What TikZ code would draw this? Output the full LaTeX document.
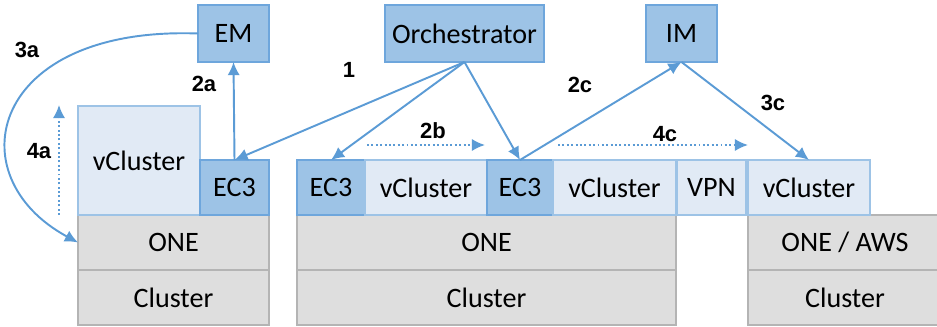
\documentclass[tikz,border=0pt]{standalone}
\usepackage{fontspec}
\setmainfont{Carlito}
\newfontfamily\nummerfont{Liberation Sans}
\usetikzlibrary{arrows.meta}

\definecolor{hellblau}{HTML}{E1EAF5}
\definecolor{randblau}{HTML}{9DC3E6}
\definecolor{mittelblau}{HTML}{9DC3E6}
\definecolor{dunkelblau}{HTML}{6EA6DC}
\definecolor{hellgrau}{HTML}{DEDEDE}
\definecolor{randgrau}{HTML}{B4B4B4}
\definecolor{pfeilblau}{HTML}{5B9BD5}

\def\d{0.02}
% Kasten: Stil, Name, x1, y1, x2, y2, Text
\def\kasten#1#2#3#4#5#6#7{\node[#1,minimum width={(#5-#3)*\d cm},minimum height={(#6-#4)*\d cm}] (#2) at ({(#3+#5)/2*\d},{(#4+#6)/2*\d}) {#7};}
\def\nummer#1#2#3{\node[nummer] at ({#1*\d},{#2*\d}) {#3};}

\tikzset{
	basis/.style={rectangle,inner sep=0pt,outer sep=0pt,line width=1.1pt,font=\fontsize{16}{19}\selectfont},
	vc/.style={basis,fill=hellblau,draw=randblau},
	ec/.style={basis,fill=mittelblau,draw=dunkelblau},
	grau/.style={basis,fill=hellgrau,draw=randgrau},
	nummer/.style={font=\nummerfont\bfseries\fontsize{12.5}{15}\selectfont},
	pfeil/.style={->,line width=1.1pt,draw=pfeilblau},
	punkte/.style={pfeil,dash pattern=on 1.1pt off 1.4pt}
}

\begin{document}
\begin{tikzpicture}[>={Latex[length=7.5pt,width=7pt]}]

\useasboundingbox (0,0) rectangle ({937*\d},{326*\d});

% oben
\kasten{ec}{em}{198}{264}{269}{321}{EM}
\kasten{ec}{orch}{385}{264}{544}{321}{Orchestrator}
\kasten{ec}{im}{646}{264}{717}{321}{IM}

% links
\kasten{grau}{oneL}{78}{56}{269}{111}{ONE}
\kasten{grau}{clusterL}{78}{1}{269}{56}{Cluster}
\kasten{vc}{vcL}{78}{111}{200}{220}{vCluster}
\kasten{ec}{ecL}{200}{111}{269}{166}{EC3}

% mitte
\kasten{grau}{oneM}{297}{56}{676}{111}{ONE}
\kasten{grau}{clusterM}{297}{1}{676}{56}{Cluster}
\kasten{ec}{ecA}{297}{111}{365}{166}{EC3}
\kasten{vc}{vcA}{365}{111}{487}{166}{vCluster}
\kasten{ec}{ecB}{487}{111}{553}{166}{EC3}
\kasten{vc}{vcB}{553}{111}{676}{166}{vCluster}
\kasten{vc}{vpn}{677}{111}{746}{166}{VPN}

% rechts
\kasten{grau}{oneR}{748}{56}{942}{111}{ONE / AWS}
\kasten{grau}{clusterR}{748}{1}{942}{56}{Cluster}
\kasten{vc}{vcR}{748}{111}{870}{166}{vCluster}

% freie Enden
\coordinate (a4u) at ({59*\d},{111*\d});
\coordinate (a4o) at ({59*\d},{221*\d});
\coordinate (b2l) at ({367*\d},{181*\d});
\coordinate (b2r) at ({485*\d},{181*\d});
\coordinate (c4l) at ({558*\d},{181*\d});
\coordinate (c4r) at ({748*\d},{181*\d});

\draw[pfeil] (orch.south) -- (ecL.north);
\draw[pfeil] (orch.south) -- (ecA.north);
\draw[pfeil] (orch.south) -- (ecB.north);
\draw[pfeil] (ecL.north) -- (em.south);
\draw[pfeil] (ecB.north) -- (im.south);
\draw[pfeil] (im.south) -- (vcR.north);
\draw[pfeil] (em.west) .. controls ({-10*\d},{300*\d}) and ({-45*\d},{150*\d}) .. (oneL.west);

\draw[punkte] (a4u) -- (a4o);
\draw[punkte] (b2l) -- (b2r);
\draw[punkte] (c4l) -- (c4r);

\nummer{27}{276}{3a}
\nummer{204}{242}{2a}
\nummer{39}{175}{4a}
\nummer{349}{256}{1}
\nummer{433}{195}{2b}
\nummer{580}{241}{2c}
\nummer{665}{192}{4c}
\nummer{773}{223}{3c}

\end{tikzpicture}
\end{document}
